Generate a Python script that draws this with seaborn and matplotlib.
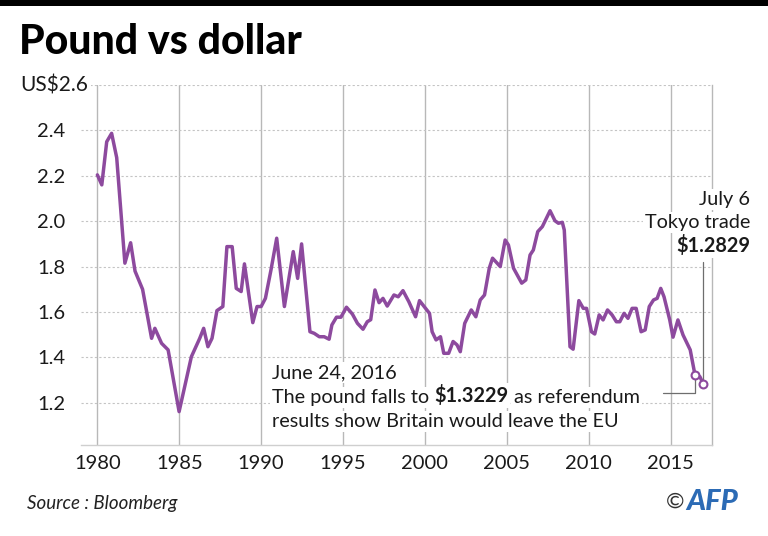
import pandas as pd
import matplotlib.pyplot as plt
import seaborn as sns
from matplotlib.patches import Rectangle

# ---------------------------
# Data
# ---------------------------

years = [
    1980.00, 1980.27, 1980.57, 1980.87, 1981.18, 1981.68, 1982.03, 1982.30,
    1982.76, 1983.31, 1983.51, 1983.92, 1984.32, 1984.99, 1985.74, 1986.25,
    1986.49, 1986.75, 1987.00, 1987.30, 1987.66, 1987.91, 1988.23, 1988.48,
    1988.78, 1988.98, 1989.49, 1989.75, 1990.00, 1990.26, 1990.60, 1990.95,
    1991.42, 1991.96, 1992.23, 1992.47, 1992.98, 1993.24, 1993.55, 1993.85,
    1994.15, 1994.32, 1994.60, 1994.87, 1995.21, 1995.57, 1995.88, 1996.22,
    1996.48, 1996.69, 1996.95, 1997.20, 1997.44, 1997.70, 1998.11, 1998.37,
    1998.66, 1999.02, 1999.43, 1999.67, 2000.04, 2000.28, 2000.44, 2000.68,
    2000.95, 2001.15, 2001.45, 2001.72, 2001.96, 2002.16, 2002.43, 2002.83,
    2003.11, 2003.38, 2003.64, 2003.93, 2004.13, 2004.60, 2004.90, 2005.10,
    2005.41, 2005.91, 2006.16, 2006.42, 2006.62, 2006.89, 2007.17, 2007.64,
    2007.94, 2008.15, 2008.39, 2008.51, 2008.86, 2009.05, 2009.40, 2009.67,
    2009.87, 2010.17, 2010.37, 2010.64, 2010.88, 2011.15, 2011.43, 2011.69,
    2011.90, 2012.16, 2012.40, 2012.65, 2012.90, 2013.20, 2013.45, 2013.70,
    2013.96, 2014.18, 2014.40, 2014.60, 2014.95, 2015.15, 2015.45, 2015.76,
    2016.20, 2016.49, 2016.79, 2017.00,
]
rates = [
    2.204, 2.160, 2.350, 2.387, 2.280, 1.815, 1.905, 1.780,
    1.700, 1.484, 1.528, 1.462, 1.433, 1.161, 1.403, 1.484,
    1.528, 1.447, 1.484, 1.606, 1.624, 1.888, 1.888, 1.704,
    1.690, 1.812, 1.553, 1.624, 1.624, 1.660, 1.785, 1.925,
    1.624, 1.866, 1.748, 1.900, 1.513, 1.506, 1.491, 1.491,
    1.480, 1.543, 1.577, 1.577, 1.621, 1.591, 1.550, 1.524,
    1.557, 1.566, 1.697, 1.641, 1.660, 1.626, 1.675, 1.667,
    1.694, 1.645, 1.579, 1.650, 1.616, 1.594, 1.513, 1.477,
    1.491, 1.418, 1.418, 1.470, 1.455, 1.425, 1.550, 1.609,
    1.579, 1.653, 1.675, 1.793, 1.837, 1.800, 1.917, 1.895,
    1.793, 1.727, 1.741, 1.851, 1.873, 1.954, 1.976, 2.046,
    2.002, 1.991, 1.995, 1.961, 1.447, 1.436, 1.650, 1.616,
    1.616, 1.513, 1.503, 1.587, 1.565, 1.609, 1.587, 1.557,
    1.557, 1.594, 1.572, 1.616, 1.616, 1.513, 1.521, 1.624,
    1.653, 1.660, 1.704, 1.667, 1.565, 1.489, 1.565, 1.499,
    1.433, 1.3229, 1.315, 1.2829,
]

# June 24, 2016 and July 6 (Tokyo trade)
event_years = [2016.49, 2017.00]
event_rates = [1.3229, 1.2829]

x_ticks = [1980, 1985, 1990, 1995, 2000, 2005, 2010, 2015]
y_ticks = [1.2, 1.4, 1.6, 1.8, 2.0, 2.2, 2.4, 2.6]
y_tick_labels = ["1.2", "1.4", "1.6", "1.8", "2.0", "2.2", "2.4", ""]

PURPLE = "#8d4a9e"
GRID = "#b8b8b8"
W, H = 768, 536


def px(x, y):
    # pixel position (top-left origin) -> figure fraction
    return x / W, 1 - y / H


# ---------------------------
# Figure
# ---------------------------

sns.set_style("white")
plt.rcParams["font.family"] = ["Lato", "DejaVu Sans"]

fig = plt.figure(figsize=(W / 100, H / 100), dpi=100)
ax = fig.add_axes([81 / W, 1 - 445 / H, (712 - 81) / W, (445 - 85) / H])

df = pd.DataFrame({"year": years, "rate": rates})
sns.lineplot(data=df, x="year", y="rate", color=PURPLE, linewidth=2.5,
             ax=ax, zorder=3)

# leader lines for the two annotations
ax.plot([event_years[0], event_years[0], event_years[0] - 1.95],
        [event_rates[0], 1.244, 1.244], color="#6e6e6e", lw=0.9, zorder=2)
ax.plot([event_years[1], event_years[1]], [event_rates[1], 1.82],
        color="#6e6e6e", lw=0.9, zorder=2)

sns.scatterplot(x=event_years, y=event_rates, marker="o", s=32,
                color="white", edgecolor=PURPLE, linewidth=1.5,
                ax=ax, zorder=5)

ax.set_xlim(1979.0, 2017.53)
ax.set_ylim(1.014, 2.6)
ax.set_xticks(x_ticks)
ax.set_xticklabels([str(t) for t in x_ticks])
ax.set_yticks(y_ticks)
ax.set_yticklabels(y_tick_labels)
ax.set_xlabel("")
ax.set_ylabel("")
ax.tick_params(axis="both", length=0, labelsize=14.5, colors="#1a1a1a")
ax.tick_params(axis="y", pad=11)
ax.tick_params(axis="x", pad=7)

ax.xaxis.grid(True, color=GRID, lw=1.0, linestyle="-")
ax.yaxis.grid(True, color="#c4c4c4", lw=0.8, linestyle=(0, (2, 2)))
ax.set_axisbelow(True)
for side in ["left", "top"]:
    ax.spines[side].set_visible(False)
ax.spines["bottom"].set_color("#cfcfcf")
ax.spines["right"].set_color(GRID)
ax.spines["bottom"].set_linewidth(1.0)
ax.spines["right"].set_linewidth(1.0)

# top y label with unit
fig.text(*px(88, 85), "US$2.6", ha="right", va="center", fontsize=15,
         color="#1a1a1a", bbox=dict(facecolor="white", edgecolor="none", pad=2))

# ---------------------------
# Annotations
# ---------------------------

box = dict(facecolor="white", edgecolor="none", pad=1.5)
txt = dict(fontsize=14.3, color="#1a1a1a")

fig.text(*px(272, 378), "June 24, 2016", va="baseline", bbox=box, **txt)
t1 = fig.text(*px(272, 403), "The pound falls to", va="baseline", bbox=box, **txt)
t2 = ax.annotate("$1.3229", xy=(1, 0), xycoords=t1, xytext=(3.7, 0),
                 textcoords="offset points", va="bottom", ha="left",
                 fontweight="bold", bbox=box, **txt)
ax.annotate("as referendum", xy=(1, 0), xycoords=t2, xytext=(3.7, 0),
            textcoords="offset points", va="bottom", ha="left", bbox=box, **txt)
fig.text(*px(272, 427), "results show Britain would leave the EU",
         va="baseline", bbox=box, **txt)

fig.text(*px(750, 205), "July 6", ha="right", va="baseline", bbox=box, **txt)
fig.text(*px(750, 228), "Tokyo trade", ha="right", va="baseline", bbox=box, **txt)
fig.text(*px(750, 252), "$1.2829", ha="right", va="baseline",
         fontweight="bold", bbox=box, **txt)

# ---------------------------
# Title, source, credit
# ---------------------------

fig.add_artist(Rectangle((0, 1 - 6 / H), 1, 6 / H, transform=fig.transFigure,
                         color="black", lw=0))
fig.text(*px(19, 54), "Pound vs dollar", fontsize=29.5, fontweight="black",
         va="baseline", color="black")
fig.text(*px(27, 503), "Source : Bloomberg", fontsize=13.5, style="italic",
         va="center", color="#222222")
fig.text(*px(684, 502), "\u00a9", fontsize=16, ha="right", va="center",
         color="#333333")
fig.text(*px(686, 502), "AFP", fontsize=21, fontweight="black", style="italic",
         ha="left", va="center", color="#2c6bb5")

fig.savefig("out.png", dpi=100)
